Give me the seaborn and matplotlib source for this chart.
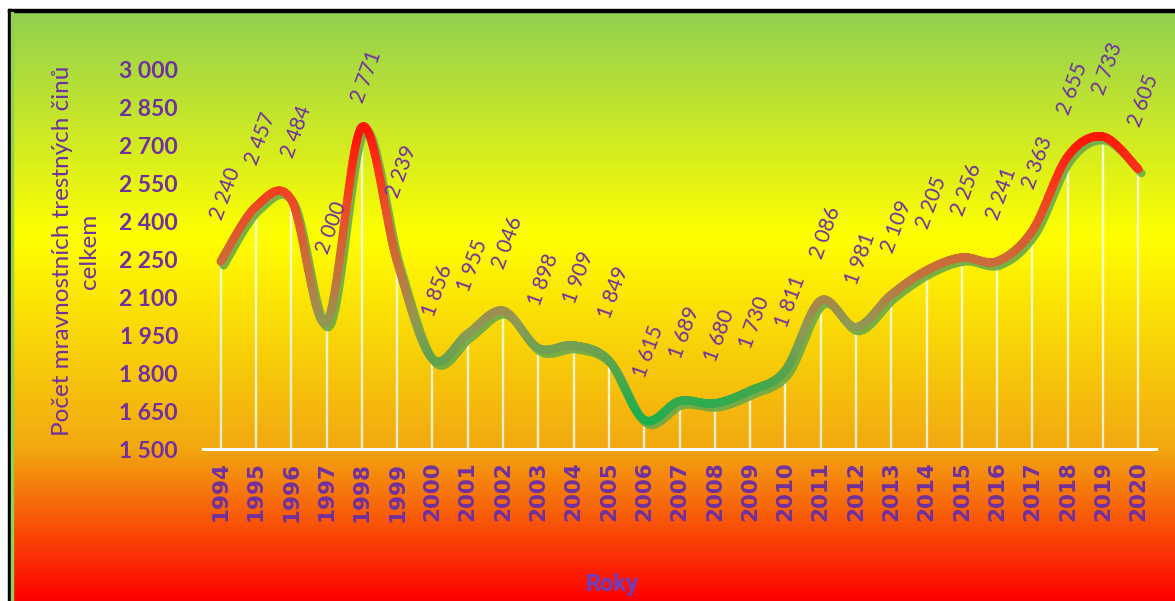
import numpy as np
import pandas as pd
import matplotlib
matplotlib.use("Agg")
import matplotlib.pyplot as plt
import seaborn as sns
from matplotlib.collections import LineCollection
from matplotlib.colors import LinearSegmentedColormap, Normalize
from matplotlib.patches import Rectangle
from matplotlib.transforms import offset_copy

# data
years = list(range(1994, 2021))
cases = [2240, 2457, 2484, 2000, 2771, 2239, 1856, 1955, 2046, 1898,
         1909, 1849, 1615, 1689, 1680, 1730, 1811, 2086, 1981, 2109,
         2205, 2256, 2241, 2363, 2655, 2733, 2605]
y_ticks = [1500, 1650, 1800, 1950, 2100, 2250, 2400, 2550, 2700, 2850, 3000]

y_title = "Počet mravnostních trestných činů\ncelkem"
x_title = "Roky"

# label nudges (points) where Excel placed the label differently
label_nudge = {1997: 19, 1998: -13, 1999: 16}

PURPLE = "#7030A0"
W, H = 1175, 601


def fmt(v):
    return f"{v:,}".replace(",", " ")


def smooth_curve(xs, ys, n=40):
    """Excel-like smoothed line: cubic bezier through every point."""
    p = np.column_stack([xs, ys]).astype(float)
    p_ext = np.vstack([p[0], p, p[-1]])
    out = []
    for i in range(len(p) - 1):
        p0, p1, p2, p3 = p_ext[i], p_ext[i + 1], p_ext[i + 2], p_ext[i + 3]
        c1 = p1 + (p2 - p0) / 6
        c2 = p2 - (p3 - p1) / 6
        t = np.linspace(0, 1, n)[:, None]
        seg = ((1 - t) ** 3) * p1 + 3 * ((1 - t) ** 2) * t * c1 \
            + 3 * (1 - t) * t ** 2 * c2 + t ** 3 * p2
        out.append(seg if i == 0 else seg[1:])
    return np.vstack(out)


sns.set_style("white")
plt.rcParams["font.family"] = ["Lato", "DejaVu Sans"]

fig = plt.figure(figsize=(W / 100, H / 100), dpi=100, facecolor="white")

# background gradient inside the chart frame
bg = fig.add_axes([0, 0, 1, 1])
bg.set_xlim(0, W)
bg.set_ylim(H, 0)
bg.axis("off")
bg_cmap = LinearSegmentedColormap.from_list(
    "bg", [(0.0, "#92D050"), (0.38, "#FFFF00"), (0.74, "#F2A810"), (1.0, "#FF0000")])
grad = np.linspace(0, 1, 400)[:, None]
bg.imshow(grad, cmap=bg_cmap, aspect="auto", extent=(11, W, H, 12), zorder=0)
bg.add_patch(Rectangle((8, 9), W, 3, color="black", zorder=2))
bg.add_patch(Rectangle((8, 9), 3, H, color="black", zorder=2))
bg.add_patch(Rectangle((11, 12), 2, H, color="#92D050", zorder=2))

# plot area
ax = fig.add_axes([203 / W, 1 - 449 / H, (1156 - 203) / W, (449 - 69) / H])
ax.patch.set_alpha(0)

curve = smooth_curve(years, cases)
df_curve = pd.DataFrame({"x": curve[:, 0], "y": curve[:, 1]})

# drop lines
ax.vlines(years, 1500, cases, colors="white", linewidth=1.7, alpha=0.8, zorder=1)

# shadow of the line
shadow_tr = offset_copy(ax.transData, fig=fig, x=3, y=-4, units="dots")
sns.lineplot(data=df_curve, x="x", y="y", ax=ax, sort=False, estimator=None,
             color="#6AAA48", linewidth=6, alpha=0.9, transform=shadow_tr, zorder=2)

# gradient coloured main line
line_cmap = LinearSegmentedColormap.from_list(
    "line", ["#19AF50", "#4FA64C", "#8E9A55", "#C0763F", "#DE5A30", "#FA3A1A", "#FF1408"])
pts = curve.reshape(-1, 1, 2)
segs = np.concatenate([pts[:-1], pts[1:]], axis=1)
mid = (curve[:-1, 1] + curve[1:, 1]) / 2
lc = LineCollection(segs, cmap=line_cmap, norm=Normalize(1600, 2750),
                    linewidth=6, capstyle="round", joinstyle="round", zorder=3)
lc.set_array(mid)
ax.add_collection(lc)

# data labels
for yr, v in zip(years, cases):
    ax.annotate(fmt(v), (yr, v), xytext=(3.5, 49 + label_nudge.get(yr, 0)),
                textcoords="offset points", rotation=70, ha="center", va="center",
                fontsize=15, color=PURPLE, zorder=4, annotation_clip=False)

ax.set_xlim(1993.5, 2020.5)
ax.set_ylim(1500, 3000)
ax.set_xticks(years)
ax.set_xticklabels([str(y) for y in years], rotation=90, fontsize=15.5,
                   fontweight="bold", color=PURPLE, family="DejaVu Sans")
ax.set_yticks(y_ticks)
ax.set_yticklabels([fmt(t) for t in y_ticks], fontsize=16.5, fontweight="bold",
                   color=PURPLE)
ax.tick_params(axis="x", length=0, pad=9)
ax.tick_params(axis="y", length=0, pad=18)
ax.set_xlabel("")
ax.set_ylabel("")
for side in ["top", "left", "right"]:
    ax.spines[side].set_visible(False)
ax.spines["bottom"].set_color("white")
ax.spines["bottom"].set_linewidth(2.2)
ax.grid(False)

fig.text(76 / W, 1 - 251 / H, y_title, rotation=90, ha="center", va="center",
         multialignment="center", fontsize=17.5, color=PURPLE, linespacing=1.3)
fig.text(612 / W, 1 - 584 / H, x_title, ha="center", va="center",
         fontsize=17, fontweight="bold", color="#6B3FBF", family="Roboto")

fig.savefig("out.png", dpi=100, facecolor="white")
